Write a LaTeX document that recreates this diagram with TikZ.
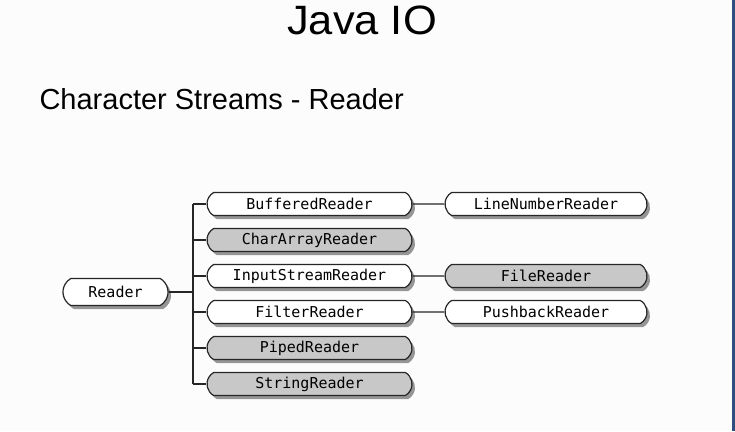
\documentclass[tikz,border=0pt]{standalone}
\usepackage{fontspec}
\setmainfont{Liberation Sans}
\setmonofont{DejaVu Sans Mono}
\usetikzlibrary{shapes.misc,shadows}
\definecolor{boxgray}{HTML}{C8C8C8}
\definecolor{slidebg}{HTML}{FCFCFC}
\definecolor{edgeblue}{HTML}{2E4E80}
\begin{document}
\begin{tikzpicture}[x=1pt,y=-1pt,
    cls/.style={rounded rectangle, rounded rectangle arc length=120,
      draw=black!85, line width=1.2pt, fill=white,
      minimum height=23pt, minimum width=205pt, inner sep=0pt,
      font=\fontsize{15}{17}\selectfont\ttfamily,
      drop shadow={shadow xshift=3pt, shadow yshift=-3.5pt, fill=black!55, opacity=.75}},
    grey/.style={cls, fill=boxgray},
    wire/.style={black!85, line width=1.2pt}]
  % slide background
  \fill [slidebg] (0,0) rectangle (735,431);
  \fill [edgeblue] (732,0) rectangle (735,431);
  \useasboundingbox (0,0) rectangle (735,431);
  \node [anchor=base, font=\fontsize{41}{45}\selectfont, xscale=1.06] (title) at (362,34) {Java IO};
  \node [anchor=base west, font=\fontsize{29}{33}\selectfont] (subtitle) at (36,109) {Character Streams - Reader};
  % class tree
  \node [cls, minimum width=105pt, minimum height=27pt] (reader) at (115.5,292) {Reader};
  \node [cls]  (buffered)  at (309.5,204) {BufferedReader};
  \node [grey] (chararray) at (309.5,240) {CharArrayReader};
  \node [cls]  (inputstr)  at (309.5,276) {InputStreamReader};
  \node [cls]  (filter)    at (309.5,312) {FilterReader};
  \node [grey] (piped)     at (309.5,348) {PipedReader};
  \node [grey] (string)    at (309.5,384) {StringReader};
  \node [cls, minimum width=202pt]  (linenum)  at (546,204) {LineNumberReader};
  \node [grey, minimum width=202pt] (file)     at (546,276) {FileReader};
  \node [cls, minimum width=202pt]  (pushback) at (546,312) {PushbackReader};
  \coordinate (trunktop) at (193,204);
  \coordinate (trunkbot) at (193,384);
  \draw [wire] (reader.east) -- (reader.east -| trunktop);
  \draw [wire] (trunktop) -- (trunkbot);
  \foreach \n in {buffered,chararray,inputstr,filter,piped,string}
    \draw [wire] (trunktop |- \n.west) -- (\n.west);
  \draw [wire] (buffered) -- (linenum);
  \draw [wire] (inputstr) -- (file);
  \draw [wire] (filter) -- (pushback);
\end{tikzpicture}
\end{document}
